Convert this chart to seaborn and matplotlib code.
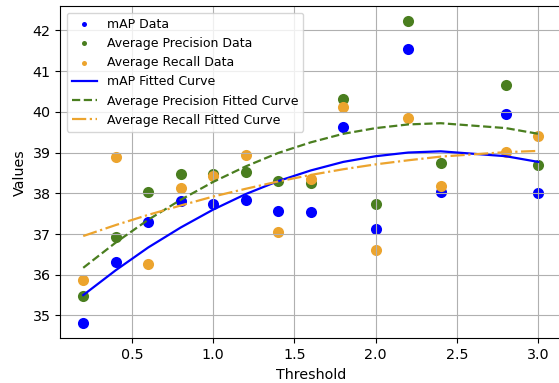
import numpy as np
import pandas as pd
import matplotlib
matplotlib.use("Agg")
import matplotlib.pyplot as plt
import seaborn as sns

# thresholds (2.6 is missing in the source data)
thresholds = [0.2, 0.4, 0.6, 0.8, 1.0, 1.2, 1.4, 1.6, 1.8, 2.0, 2.2, 2.4, 2.8, 3.0]

# measured values
map_data = [34.81, 36.32, 37.30, 37.81, 37.74, 37.84, 37.57, 37.53, 39.63, 37.12, 41.54, 38.03, 39.94, 38.01]
ap_data = [35.48, 36.93, 38.04, 38.47, 38.47, 38.51, 38.30, 38.25, 40.32, 37.74, 42.22, 38.75, 40.66, 38.70]
ar_data = [35.87, 38.89, 36.26, 38.12, 38.43, 38.95, 37.04, 38.35, 40.12, 36.61, 39.84, 38.19, 39.01, 39.41]

# fitted curves
map_fit = [35.50, 36.11, 36.67, 37.16, 37.60, 37.98, 38.30, 38.56, 38.77, 38.91, 39.00, 39.03, 38.91, 38.77]
ap_fit = [36.17, 36.79, 37.35, 37.84, 38.28, 38.66, 38.99, 39.25, 39.46, 39.60, 39.69, 39.72, 39.60, 39.46]
ar_fit = [36.95, 37.22, 37.47, 37.70, 37.92, 38.11, 38.29, 38.45, 38.59, 38.71, 38.81, 38.90, 39.01, 39.04]

blue = "blue"
green = "#4a7e1f"
orange = "#eca42e"

plt.rcParams["font.size"] = 10.3

df = pd.DataFrame({"threshold": thresholds,
                   "map": map_data, "ap": ap_data, "ar": ar_data,
                   "map_fit": map_fit, "ap_fit": ap_fit, "ar_fit": ar_fit})

fig = plt.figure(figsize=(5.59, 3.83), dpi=100)
ax = fig.add_axes([0.1082, 0.1167, 0.8954, 0.8669])

# scatter points
sns.scatterplot(data=df, x="threshold", y="map", color=blue, s=64, linewidth=0, label="mAP Data", ax=ax)
sns.scatterplot(data=df, x="threshold", y="ap", color=green, s=64, linewidth=0, label="Average Precision Data", ax=ax)
sns.scatterplot(data=df, x="threshold", y="ar", color=orange, s=64, linewidth=0, label="Average Recall Data", ax=ax)

# fitted curves
sns.lineplot(data=df, x="threshold", y="map_fit", color=blue, linewidth=1.6, errorbar=None, label="mAP Fitted Curve", ax=ax)
sns.lineplot(data=df, x="threshold", y="ap_fit", color=green, linewidth=1.6, linestyle="--", errorbar=None, label="Average Precision Fitted Curve", ax=ax)
sns.lineplot(data=df, x="threshold", y="ar_fit", color=orange, linewidth=1.6, linestyle="-.", errorbar=None, label="Average Recall Fitted Curve", ax=ax)

ax.set_xlabel("Threshold")
ax.set_ylabel("Values")
ax.grid(True)
ax.legend(loc="upper left", markerscale=0.45, fontsize=9)

fig.savefig("out.png", dpi=100)
